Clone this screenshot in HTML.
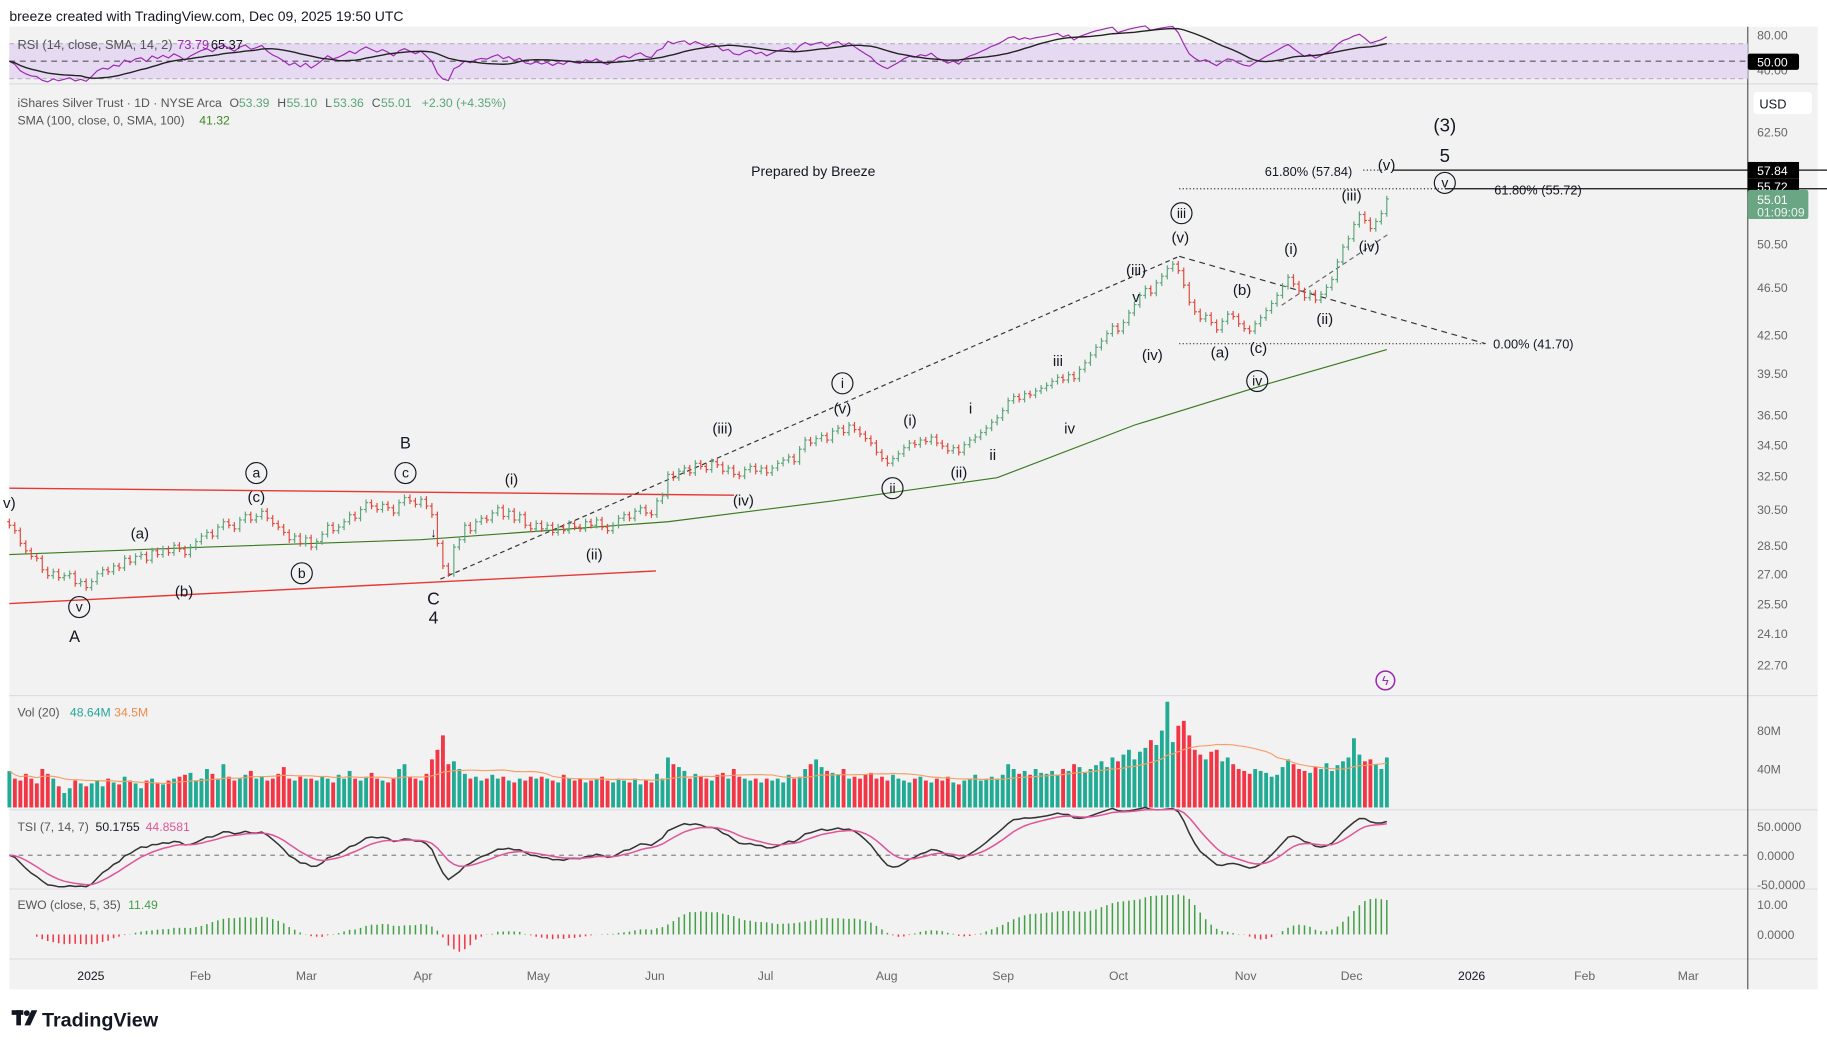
<!DOCTYPE html>
<html><head><meta charset="utf-8"><style>
html,body{margin:0;padding:0;background:#fff;width:1827px;height:1049px;overflow:hidden}
svg{display:block}
text{font-family:"Liberation Sans",sans-serif}
</style></head><body>
<svg id="c" width="1827" height="1049" viewBox="0 0 1568 900.3" preserveAspectRatio="none" xmlns="http://www.w3.org/2000/svg">
<rect x="0" y="0" width="1568" height="900.3" fill="#ffffff"/>
<rect x="8" y="23" width="1552" height="826" fill="#f2f2f2"/>
<text x="8" y="18" font-size="12" fill="#131722">breeze created with TradingView.com, Dec 09, 2025 19:50 UTC</text>
<g id="g"></g>
</svg>
<script>
// ---- data ----
const closes = [
29.6,29.3,28.6,28.2,27.9,27.8,27.2,26.9,27.1,26.8,26.9,27.0,26.5,26.6,26.3,
26.6,27.0,27.2,27.1,27.4,27.3,27.8,27.6,27.9,28.0,27.7,28.2,28.0,28.3,28.1,28.5,28.3,28.0,28.4,28.7,29.0,
29.2,29.0,29.5,29.8,29.6,29.4,29.9,30.2,29.9,30.1,30.4,30.0,29.7,29.5,29.2,28.8,29.0,28.6,28.9,
28.4,28.7,29.1,29.6,29.3,29.5,29.8,30.2,30.0,30.5,30.9,30.7,30.5,30.8,30.6,30.3,30.9,31.2,31.0,30.8,31.1,
30.7,30.2,28.6,27.4,27.0,28.4,28.8,29.6,29.3,29.8,30.0,29.9,30.3,30.6,30.1,30.4,29.9,30.2,29.6,29.4,29.7,
29.4,29.6,29.2,29.5,29.3,29.7,29.5,29.4,29.8,29.6,29.9,29.5,29.3,29.6,30.0,30.2,30.0,30.4,30.6,30.3,30.2,
31.0,31.3,32.6,32.4,32.8,33.0,32.7,33.3,33.1,32.9,33.4,33.2,32.8,33.0,32.6,32.5,32.9,33.1,32.8,33.0,32.7,
33.0,33.3,33.5,33.7,33.4,34.2,34.8,34.6,34.9,35.1,34.8,35.4,35.6,35.3,35.8,35.5,35.2,34.9,34.6,34.0,33.6,33.3,
33.6,33.9,34.3,34.6,34.5,34.8,34.7,35.0,34.6,34.4,34.1,34.3,34.0,34.5,34.8,35.0,35.3,35.6,36.0,36.3,36.8,
37.5,37.8,37.6,38.0,37.9,38.2,38.4,38.6,38.9,39.2,39.0,39.4,39.1,39.8,40.3,40.9,41.5,42.0,42.6,43.2,42.8,
43.5,44.3,45.0,45.8,46.4,46.0,46.9,47.5,48.2,48.6,48.0,46.7,45.2,44.4,43.8,44.1,43.5,42.9,43.6,44.2,44.0,43.4,43.0,
42.8,43.4,43.9,44.5,45.1,45.8,46.6,47.4,46.8,46.2,45.6,46.0,45.4,45.9,46.5,47.2,48.8,50.2,51.0,
52.4,53.4,52.8,52.0,52.7,53.5,55.01];
const volumes = [
38,30,28,35,30,25,40,35,30,22,15,20,28,25,22,
25,28,22,30,26,24,32,28,25,20,28,30,26,24,28,30,32,34,36,28,30,
40,35,30,45,32,28,30,34,38,30,32,28,30,35,42,30,28,32,30,
30,28,32,30,26,34,30,38,30,28,32,36,30,28,26,30,40,45,32,30,28,
35,50,60,75,45,48,40,35,30,32,28,30,34,30,32,28,26,30,28,32,30,
32,30,28,26,34,30,28,30,26,28,30,32,28,26,30,28,26,30,24,28,26,
35,30,52,45,42,38,30,35,32,30,28,34,36,30,40,32,30,28,30,26,30,
28,30,26,34,30,32,40,45,50,42,38,36,34,40,30,32,30,34,36,30,32,28,
34,30,28,26,30,32,28,26,30,28,32,26,24,28,30,34,28,30,32,30,34,
45,40,35,38,34,40,36,35,38,34,40,38,45,42,36,40,44,48,42,52,48,
55,60,50,58,62,70,65,80,110,68,85,90,75,60,55,50,58,60,48,52,45,40,38,
35,40,38,36,32,34,42,50,45,40,38,36,42,40,46,38,44,48,52,
72,55,48,50,45,40,52];
const smaIdx = [0,36,75,120,150,180,205,230,251];
const smaVals = [28.0,28.4,28.8,29.8,31.0,32.4,35.8,38.8,41.32];
const priceTicks = [62.5,50.5,46.5,42.5,39.5,36.5,34.5,32.5,30.5,28.5,27.0,25.5,24.1,22.7];
const monthLabels = ["2025","Feb","Mar","Apr","May","Jun","Jul","Aug","Sep","Oct","Nov","Dec","2026","Feb","Mar"];
const monthX = [78,172,263,363,462,562,657,761,861,960,1069,1160,1263,1360,1449];

// ---- scales ----
const N = Math.min(closes.length, volumes.length);
const xS = i => 8 + i * 4.71;
const yP = p => 113 + (Math.log(62.5) - Math.log(p)) * 452;
const yV = v => 693 - v * 33 / 40;
const yR = r => 30 + (80 - r) * 0.75;
const yT = t => 734 - t * 0.5;
const yE = e => 802 - e * 2.6;
const G = document.getElementById('g');
const NS = 'http://www.w3.org/2000/svg';
function mk(tag, attrs, parent) { const e = document.createElementNS(NS, tag); for (const k in attrs) e.setAttribute(k, attrs[k]); (parent || G).appendChild(e); return e; }
function txt(x, y, s, size, fill, anchor, name) {
  const t = mk('text', {x: x, y: y, 'font-size': size, fill: fill, 'text-anchor': anchor || 'start'});
  t.textContent = s;
  
  
  return t;
}
const UP = '#5ba57a', DN = '#e0483b';

// pane separators
[72, 597, 695, 763, 823].forEach(y => { const l = mk('line', {x1: 8, x2: 1560, y1: y, y2: y, stroke: '#dcdce4', 'stroke-width': 1});
  
   });
const ax = mk('line', {x1: 1500, x2: 1500, y1: 23, y2: 849, stroke: '#555', 'stroke-width': 1});



// RSI pane
const rb = mk('rect', {x: 8, y: yR(70), width: 1492, height: yR(30) - yR(70), fill: '#e6d9f2'});


[70, 30].forEach(v => mk('line', {x1: 8, x2: 1500, y1: yR(v), y2: yR(v), stroke: '#b8b0c4', 'stroke-dasharray': '4 3'}));
mk('line', {x1: 8, x2: 1500, y1: yR(50), y2: yR(50), stroke: '#555', 'stroke-dasharray': '5 4'});
const diffs = closes.slice(0, N).map((c, i) => i ? c - closes[i - 1] : 0);
const avg = (a) => a.reduce((s, v) => s + v, 0) / a.length;
const absAvg = avg(diffs.slice(1, 30).map(Math.abs));
const rsi = []; { let ag = absAvg / 2, al = absAvg / 2;
  for (let i = 0; i < N; i++) {
    if (i > 0) { const d = diffs[i]; ag = (ag * 13 + Math.max(d, 0)) / 14; al = (al * 13 + Math.max(-d, 0)) / 14; }
    rsi.push(al === 0 ? 70 : 100 - 100 / (1 + ag / al)); } }
const rsiS = rsi.map((v, i) => { const s = rsi.slice(Math.max(0, i - 13), i + 1); return s.reduce((a, b) => a + b, 0) / s.length; });
const rl = mk('polyline', {points: rsi.map((v, i) => xS(i) + ',' + yR(v)).join(' '), fill: 'none', stroke: '#9c27b0', 'stroke-width': 1});


const rsl = mk('polyline', {points: rsiS.map((v, i) => xS(i) + ',' + yR(v)).join(' '), fill: 'none', stroke: '#222', 'stroke-width': 1.2});


txt(15, 42, 'RSI (14, close, SMA, 14, 2)', 11, '#555', 'start', 'rsi-legend');
txt(152, 42, '73.79', 11, '#9c27b0', 'start', 'rsi-value');
txt(181, 42, '65.37', 11, '#131722', 'start', 'rsi-sma-value');
txt(1508, 34, '80.00', 10.5, '#666', 'start', 'rsi-tick-80');
txt(1508, 64, '40.00', 10.5, '#666', 'start', 'rsi-tick-40');
mk('rect', {x: 1500, y: 46, width: 44, height: 14, rx: 2, fill: '#000'});
txt(1508, 57, '50.00', 10.5, '#fff', 'start', 'rsi-50-label');

// price pane
txt(15, 92, 'iShares Silver Trust · 1D · NYSE Arca', 10.5, '#555', 'start', 'symbol-title');
txt(197, 92, 'O', 10.5, '#555', 'start', 'ohlc-o'); txt(205, 92, '53.39', 10.5, '#5ba57a', 'start', 'open-value');
txt(238, 92, 'H', 10.5, '#555', 'start', 'ohlc-h'); txt(246, 92, '55.10', 10.5, '#5ba57a', 'start', 'high-value');
txt(279, 92, 'L', 10.5, '#555', 'start', 'ohlc-l'); txt(286, 92, '53.36', 10.5, '#5ba57a', 'start', 'low-value');
txt(319, 92, 'C', 10.5, '#555', 'start', 'ohlc-c'); txt(327, 92, '55.01', 10.5, '#5ba57a', 'start', 'close-value');
txt(362, 92, '+2.30 (+4.35%)', 10.5, '#5ba57a', 'start', 'change-value');
txt(15, 107, 'SMA (100, close, 0, SMA, 100)', 10.5, '#555', 'start', 'sma-legend');
txt(171, 107, '41.32', 10.5, '#3b8a1e', 'start', 'sma-value');
mk('rect', {x: 1505, y: 79, width: 50, height: 19, rx: 3, fill: '#fff'});
txt(1510, 93, 'USD', 11, '#131722', 'start', 'currency-label');
priceTicks.forEach(p => txt(1508, yP(p) + 4, p.toFixed(2), 10.5, '#666', 'start', 'price-tick'));

// trend lines & fib
function line(x1, y1, x2, y2, st, dash, name, w) {
  const l = mk('line', {x1: x1, y1: y1, x2: x2, y2: y2, stroke: st, 'stroke-width': w || 1});
  if (dash) l.setAttribute('stroke-dasharray', dash);
  
  
}
line(8, 419, 630, 425, '#e53935', null, 'upper-channel-line', 1.2);
line(8, 518, 563, 490, '#e53935', null, 'lower-channel-line', 1.2);
line(378, 497, 1012, 220, '#333', '4 3', 'wave-trend-line');
line(1012, 220, 1275, 295, '#333', '5 4', 'abc-trend-line');
line(1100, 262, 1193, 200, '#666', '4 3', 'minor-trend-line');
line(1012, 295, 1275, 295, '#333', '1 2', 'fib-0-line');
line(1012, 162, 1240, 162, '#333', '1 2', 'fib-5572-dotted');
line(1170, 146, 1190, 146, '#333', '1 2', 'fib-5784-dotted');
line(1195, 146, 1568, 146, '#111', null, 'fib-5784-line');
line(1240, 162, 1568, 162, '#111', null, 'fib-5572-line');

// SMA line
const smaPts = smaIdx.map((i, k) => xS(i) + ',' + yP(smaVals[k])).join(' ');
const sl = mk('polyline', {points: smaPts, fill: 'none', stroke: '#3b7a22', 'stroke-width': 1});



// OHLC bars
for (let i = 0; i < N; i++) {
  const c = closes[i], o = i ? closes[i - 1] : c + 0.2;
  const hi = Math.max(o, c) * 1.006, lo = Math.min(o, c) * 0.994;
  const col = c >= o ? UP : DN, x = xS(i);
  const b = mk('g', {stroke: col, 'stroke-width': 1});
  
  
  mk('line', {x1: x, x2: x, y1: yP(hi), y2: yP(lo)}, b);
  mk('line', {x1: x - 1.8, x2: x, y1: yP(o), y2: yP(o)}, b);
  mk('line', {x1: x, x2: x + 1.8, y1: yP(c), y2: yP(c)}, b);
}
mk('rect', {x: 1500, y: 139, width: 44, height: 14, fill: '#000'});
txt(1508, 150, '57.84', 10.5, '#fff', 'start', 'fib-5784-price-label');
mk('rect', {x: 1500, y: 153, width: 44, height: 14, fill: '#000'});
txt(1508, 164, '55.72', 10.5, '#fff', 'start', 'fib-5572-price-label');
mk('rect', {x: 1500, y: 163, width: 52, height: 25, rx: 2, fill: '#6aa584'});
txt(1508, 175, '55.01', 10.5, '#fff', 'start', 'last-price-label');
txt(1508, 186, '01:09:09', 10.5, '#e8f4ec', 'start', 'countdown-label');

// annotations
txt(698, 151, 'Prepared by Breeze', 12, '#131722', 'middle', 'prepared-by-note');
txt(1123, 151, '61.80% (57.84)', 11, '#131722', 'middle', 'fib-5784-label');
txt(1320, 167, '61.80% (55.72)', 11, '#131722', 'middle', 'fib-5572-label');
txt(1316, 299, '0.00% (41.70)', 11, '#131722', 'middle', 'fib-0-label');
const waves = [
[1240,113,'(3)',16],[1240,139,'5',16],[1190,146,'(v)',13],[1160,172,'(iii)',13],[1175,216,'(iv)',13],
[1108,218,'(i)',13],[1137,278,'(ii)',13],[1013,208,'(v)',13],[975,236,'(iii)',13],[975,259,'v',13],
[989,309,'(iv)',13],[1066,253,'(b)',13],[1047,307,'(a)',13],[1080,303,'(c)',13],[908,314,'iii',13],
[918,372,'iv',13],[833,355,'i',13],[852,395,'ii',13],[781,365,'(i)',13],[823,410,'(ii)',13],
[723,355,'(v)',13],[620,372,'(iii)',13],[638,434,'(iv)',13],[439,416,'(i)',13],[510,480,'(ii)',13],
[348,385,'B',14],[220,431,'(c)',13],[120,462,'(a)',13],[158,512,'(b)',13],[372,519,'C',15],
[372,535,'4',15],[64,551,'A',14],[8,436,'v)',13],[372,461,'↓',11]];
waves.forEach(w => txt(w[0], w[1], w[2], w[3], '#131722', 'middle', 'wave-label'));
const circ = [[1240,157,'v'],[1014,183,'iii'],[1079,327,'iv'],[766,419,'ii'],[723,329,'i'],[348,406,'c'],[220,406,'a'],[259,492,'b'],[68,521,'v']];
circ.forEach(c => { const g = mk('g', {});
  
  
  mk('circle', {cx: c[0], cy: c[1], r: 9, fill: 'none', stroke: '#131722', 'stroke-width': 1}, g);
  const t = mk('text', {x: c[0], y: c[1] + 4, 'font-size': 12, 'text-anchor': 'middle', fill: '#131722'}, g); t.textContent = c[2]; });
const lc = mk('circle', {cx: 1189, cy: 584, r: 8, fill: 'none', stroke: '#9c27b0', 'stroke-width': 1.3});


txt(1189, 588, 'ϟ', 11, '#9c27b0', 'middle', 'event-icon');

// Volume pane
txt(15, 615, 'Vol (20)', 10.5, '#555', 'start', 'volume-legend');
txt(60, 615, '48.64M', 10.5, '#26a69a', 'start', 'volume-value');
txt(98, 615, '34.5M', 10.5, '#f08b4c', 'start', 'volume-ma-value');
txt(1508, 631, '80M', 10.5, '#666', 'start', 'volume-tick-80');
txt(1508, 664, '40M', 10.5, '#666', 'start', 'volume-tick-40');
for (let i = 0; i < N; i++) {
  const up = i === 0 || closes[i] >= closes[i - 1];
  const r = mk('rect', {x: xS(i) - 1.6, y: yV(volumes[i]), width: 3.3, height: 693 - yV(volumes[i]), fill: up ? '#22ab94' : '#f23645'});
  
  
}
const vma = volumes.slice(0, N).map((v, i) => { const s = volumes.slice(Math.max(0, i - 19), i + 1); return s.reduce((a, b) => a + b, 0) / s.length; });
const vl = mk('polyline', {points: vma.map((v, i) => xS(i) + ',' + yV(v)).join(' '), fill: 'none', stroke: '#f5a06a', 'stroke-width': 1});



// TSI pane
function ema(a, n, seed) { const k = 2 / (n + 1); const o = []; a.forEach((v, i) => o.push(i ? o[i - 1] + k * (v - o[i - 1]) : seed)); return o; }
const mom = diffs;
const e1 = ema(mom, 14, 0), n1 = ema(e1, 7, 0);
const ea = ema(mom.map(Math.abs), 14, absAvg), d1 = ema(ea, 7, absAvg);
const tsi = n1.map((v, i) => d1[i] ? 100 * v / d1[i] : 0);
const tsiS = ema(tsi, 7, 0);
mk('line', {x1: 8, x2: 1500, y1: yT(0), y2: yT(0), stroke: '#888', 'stroke-dasharray': '4 4'});
const tl = mk('polyline', {points: tsi.map((v, i) => xS(i) + ',' + yT(v)).join(' '), fill: 'none', stroke: '#333', 'stroke-width': 1.3});


const tsl = mk('polyline', {points: tsiS.map((v, i) => xS(i) + ',' + yT(v)).join(' '), fill: 'none', stroke: '#e0559a', 'stroke-width': 1.3});


txt(15, 713, 'TSI (7, 14, 7)', 10.5, '#555', 'start', 'tsi-legend');
txt(82, 713, '50.1755', 10.5, '#131722', 'start', 'tsi-value');
txt(125, 713, '44.8581', 10.5, '#e0559a', 'start', 'tsi-signal-value');
txt(1508, 713, '50.0000', 10.5, '#666', 'start', 'tsi-tick-50');
txt(1508, 738, '0.0000', 10.5, '#666', 'start', 'tsi-tick-0');
txt(1508, 763, '-50.0000', 10.5, '#666', 'start', 'tsi-tick-neg50');

// EWO pane
const sma = (n, i) => { const s = closes.slice(Math.max(0, i - n + 1), i + 1); return s.reduce((a, b) => a + b, 0) / s.length; };
for (let i = 0; i < N; i++) {
  const e = (sma(5, i) - sma(35, i)) / closes[i] * 100;
  const l = mk('line', {x1: xS(i), x2: xS(i), y1: yE(0), y2: yE(e), stroke: e >= 0 ? '#43a047' : '#f23645', 'stroke-width': 1.3});
  
  
}
txt(15, 780, 'EWO (close, 5, 35)', 10.5, '#555', 'start', 'ewo-legend');
txt(110, 780, '11.49', 10.5, '#43a047', 'start', 'ewo-value');
txt(1508, 780, '10.00', 10.5, '#666', 'start', 'ewo-tick-10');
txt(1508, 806, '0.0000', 10.5, '#666', 'start', 'ewo-tick-0');

// time axis
monthLabels.forEach((m, k) => txt(monthX[k], 841, m, 10.5, k === 0 || k === 12 ? '#131722' : '#666', 'middle', 'time-tick'));
const lg = mk('g', {fill: '#131722'});


mk('rect', {x: 10, y: 867, width: 10, height: 4}, lg);
mk('rect', {x: 14, y: 867, width: 4, height: 13}, lg);
mk('circle', {cx: 23, cy: 869.5, r: 2.5}, lg);
mk('polygon', {points: '27,867 32,867 26,880 21,880'}, lg);
const logo = txt(36, 881, 'TradingView', 17, '#131722', 'start', 'tradingview-logo');
logo.setAttribute('font-weight', 'bold');
</script>
</body></html>
